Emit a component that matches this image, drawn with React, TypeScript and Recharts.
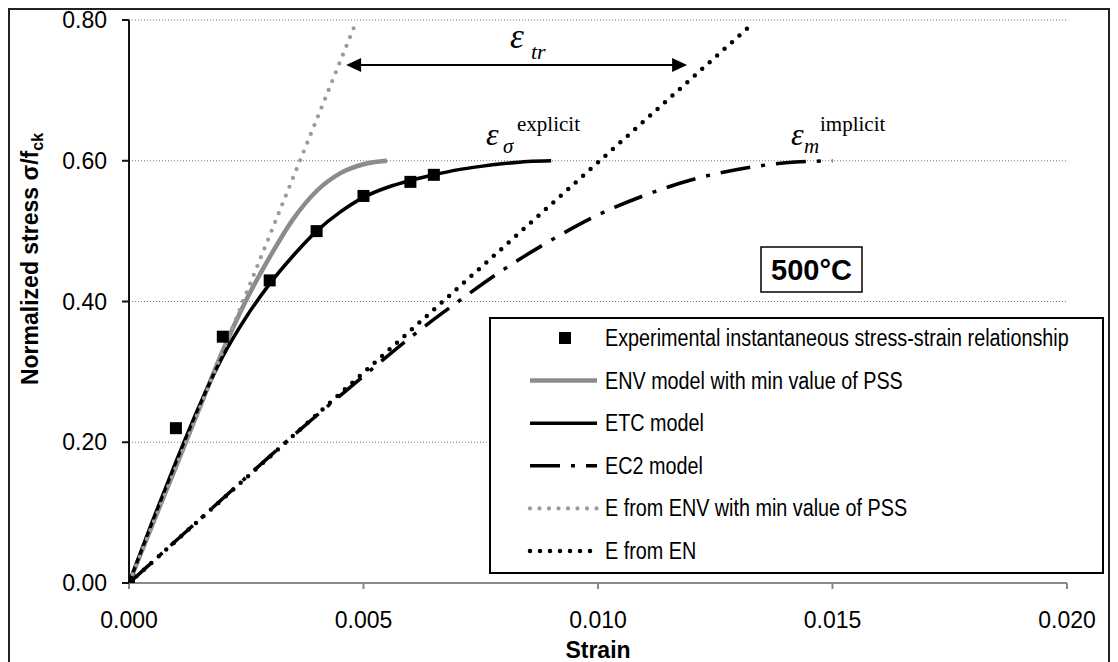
import React from 'react';
import {
  ComposedChart,
  Line,
  Scatter,
  XAxis,
  YAxis,
  CartesianGrid,
  Legend,
  ReferenceLine,
} from 'recharts';

// ---------- data ----------
const EXP_STRAIN = [0, 0.001, 0.002, 0.003, 0.004, 0.005, 0.006, 0.0065];
const EXP_STRESS = [0, 0.22, 0.35, 0.43, 0.5, 0.55, 0.57, 0.58];

const ENV_STRAIN = [0, 0.0005, 0.001, 0.0015, 0.002, 0.0025, 0.003, 0.0035, 0.004, 0.0045, 0.005, 0.0055];
const ENV_STRESS = [0, 0.083, 0.165, 0.248, 0.33, 0.402, 0.463, 0.517, 0.557, 0.582, 0.595, 0.6];

const ETC_STRAIN = [0, 0.0005, 0.001, 0.0015, 0.002, 0.0025, 0.003, 0.0035, 0.004, 0.0045, 0.005, 0.0055, 0.006, 0.0065, 0.007, 0.0075, 0.008, 0.0085, 0.009];
const ETC_STRESS = [0, 0.088, 0.172, 0.252, 0.322, 0.378, 0.425, 0.465, 0.5, 0.527, 0.548, 0.562, 0.572, 0.58, 0.587, 0.592, 0.596, 0.599, 0.6];

const EC2_STRAIN = [0, 0.001, 0.002, 0.003, 0.004, 0.005, 0.006, 0.007, 0.008, 0.009, 0.01, 0.011, 0.012, 0.013, 0.014, 0.015];
const EC2_STRESS = [0, 0.06, 0.12, 0.18, 0.238, 0.294, 0.349, 0.399, 0.446, 0.487, 0.523, 0.551, 0.573, 0.588, 0.597, 0.6];

const E_ENV_STRAIN = [0, 0.00486];
const E_ENV_STRESS = [0, 0.8];

const E_EN_STRAIN = [0, 0.0133];
const E_EN_STRESS = [0, 0.795];

const ARROW_STRAIN = [0.00463, 0.0119];
const ARROW_STRESS = 0.736;

const X_TICKS = [0, 0.005, 0.01, 0.015, 0.02];
const Y_TICKS = [0, 0.2, 0.4, 0.6, 0.8];

const SERIES_NAMES = [
  'Experimental instantaneous stress-strain relationship',
  'ENV model with min value of PSS',
  'ETC model',
  'EC2 model',
  'E from ENV with min value of PSS',
  'E from EN',
];

const zip = (xs: number[], ys: number[]) => xs.map((x, i) => ({ x, y: ys[i] }));

const expData = zip(EXP_STRAIN, EXP_STRESS);
const envData = zip(ENV_STRAIN, ENV_STRESS);
const etcData = zip(ETC_STRAIN, ETC_STRESS);
const ec2Data = zip(EC2_STRAIN, EC2_STRESS);
const eEnvData = zip(E_ENV_STRAIN, E_ENV_STRESS);
const eEnData = zip(E_EN_STRAIN, E_EN_STRESS);

// ---------- styles ----------
const SANS = "'Liberation Sans', Arial, Helvetica, sans-serif";
const SERIF = "'Liberation Serif', 'Times New Roman', serif";

const STYLE = {
  env: { stroke: '#8c8c8c', strokeWidth: 4.5 },
  etc: { stroke: '#000000', strokeWidth: 3.5 },
  ec2: { stroke: '#000000', strokeWidth: 3.5, strokeDasharray: '30 11 4 11' },
  eEnv: { stroke: '#9a9a9a', strokeWidth: 4.2, strokeDasharray: '0 9.5', strokeLinecap: 'round' as const },
  eEn: { stroke: '#000000', strokeWidth: 4.5, strokeDasharray: '0 10', strokeLinecap: 'round' as const },
};

const LEGEND_KEYS: Array<keyof typeof STYLE | 'exp'> = ['exp', 'env', 'etc', 'ec2', 'eEnv', 'eEn'];

const SquareMarker = (props: any) => {
  const { cx, cy } = props;
  if (cx == null || cy == null) return null;
  return <rect x={cx - 6} y={cy - 6} width={12} height={12} fill="#000" />;
};

const LegendBox = () => {
  const w = 615;
  const h = 257;
  return (
    <svg width={w} height={h} style={{ display: 'block', overflow: 'visible' }}>
      <rect x={1} y={1} width={w - 2} height={h - 2} fill="#fff" stroke="#000" strokeWidth={2} />
      {LEGEND_KEYS.map((k, i) => {
        const cy = 21 + i * 42.6;
        return (
          <g key={k}>
            {k === 'exp' ? (
              <rect x={70} y={cy - 6} width={12} height={12} fill="#000" />
            ) : (
              <line x1={41} x2={108} y1={cy} y2={cy} {...(STYLE as any)[k]} />
            )}
            <text
              transform={`translate(116, ${cy + 8}) scale(0.86, 1)`}
              fontFamily={SANS}
              fontSize={23}
              fill="#000"
            >
              {SERIES_NAMES[i]}
            </text>
          </g>
        );
      })}
    </svg>
  );
};

const ArrowShape = (props: any) => {
  const { x1, y1, x2, y2 } = props;
  if (x1 == null) return null;
  const head = 15;
  const half = 7;
  return (
    <g>
      <line x1={x1 + head - 2} y1={y1} x2={x2 - head + 2} y2={y2} stroke="#000" strokeWidth={2} />
      <polygon points={`${x1},${y1} ${x1 + head},${y1 - half} ${x1 + head},${y1 + half}`} fill="#000" />
      <polygon points={`${x2},${y2} ${x2 - head},${y2 - half} ${x2 - head},${y2 + half}`} fill="#000" />
    </g>
  );
};

export default function App() {
  return (
    <div
      style={{
        position: 'relative',
        width: 1118,
        height: 662,
        marginLeft: -8,
        marginTop: -8,
        background: '#fff',
        fontFamily: SANS,
        overflow: 'hidden',
      }}
    >
      <ComposedChart width={1118} height={662} margin={{ top: 20, right: 51, bottom: 0, left: 0 }}>
        <CartesianGrid horizontal vertical={false} stroke="#7a7a7a" strokeDasharray="1 2" strokeWidth={1} />
        <XAxis
          type="number"
          dataKey="x"
          domain={[0, 0.02]}
          ticks={X_TICKS}
          allowDataOverflow
          height={79}
          tickSize={6}
          tickMargin={23}
          tickFormatter={(v: number) => v.toFixed(3)}
          axisLine={{ stroke: '#8a8a8a', strokeWidth: 2 }}
          tickLine={{ stroke: '#8a8a8a', strokeWidth: 2 }}
          tick={{ fill: '#000', fontSize: 23, fontFamily: SANS }}
        />
        <YAxis
          type="number"
          dataKey="y"
          domain={[0, 0.8]}
          ticks={Y_TICKS}
          allowDataOverflow
          width={129}
          tickSize={7}
          tickMargin={15}
          tickFormatter={(v: number) => v.toFixed(2)}
          axisLine={{ stroke: '#111', strokeWidth: 2 }}
          tickLine={{ stroke: '#111', strokeWidth: 2 }}
          tick={{ fill: '#000', fontSize: 23, fontFamily: SANS }}
        />
        <Line data={envData} dataKey="y" name={SERIES_NAMES[1]} type="monotone" dot={false} activeDot={false} isAnimationActive={false} {...STYLE.env} />
        <Line data={etcData} dataKey="y" name={SERIES_NAMES[2]} type="monotone" dot={false} activeDot={false} isAnimationActive={false} {...STYLE.etc} />
        <Line data={ec2Data} dataKey="y" name={SERIES_NAMES[3]} type="monotone" dot={false} activeDot={false} isAnimationActive={false} {...STYLE.ec2} />
        <Line data={eEnvData} dataKey="y" name={SERIES_NAMES[4]} type="linear" dot={false} activeDot={false} isAnimationActive={false} {...STYLE.eEnv} />
        <Line data={eEnData} dataKey="y" name={SERIES_NAMES[5]} type="linear" dot={false} activeDot={false} isAnimationActive={false} {...STYLE.eEn} />
        <Scatter data={expData} dataKey="y" name={SERIES_NAMES[0]} shape={SquareMarker} isAnimationActive={false} />
        <ReferenceLine
          segment={[
            { x: ARROW_STRAIN[0], y: ARROW_STRESS },
            { x: ARROW_STRAIN[1], y: ARROW_STRESS },
          ]}
          ifOverflow="visible"
          shape={ArrowShape}
        />
        <Legend
          layout="vertical"
          align="center"
          verticalAlign="middle"
          content={() => <LegendBox />}
          wrapperStyle={{ left: 489, top: 317, width: 615, height: 257, margin: 0, padding: 0 }}
        />
      </ComposedChart>

      {/* outer frame (open at the bottom, as in the cropped reference) */}
      <div
        style={{
          position: 'absolute',
          left: 8,
          top: 8,
          width: 1102,
          height: 700,
          borderLeft: '2px solid #222',
          borderTop: '2px solid #222',
          borderRight: '2px solid #222',
          pointerEvents: 'none',
          boxSizing: 'border-box',
        }}
      />

      <svg
        width={1118}
        height={662}
        style={{ position: 'absolute', left: 0, top: 0, pointerEvents: 'none' }}
      >
        {/* axis titles */}
        <text x={598} y={658} textAnchor="middle" fontFamily={SANS} fontSize={23} fontWeight="bold" fill="#000">
          Strain
        </text>
        <text
          transform="translate(38,259) rotate(-90)"
          textAnchor="middle"
          fontFamily={SANS}
          fontSize={23}
          fontWeight="bold"
          fill="#000"
        >
          Normalized stress σ/f
          <tspan fontSize={16} dy={5}>ck</tspan>
        </text>

        {/* annotations */}
        <text fontFamily={SERIF} fill="#000">
          <tspan x={510} y={48} fontSize={35} fontStyle="italic">ε</tspan>
          <tspan x={531} y={59} fontSize={22} fontStyle="italic">tr</tspan>
        </text>
        <text fontFamily={SERIF} fill="#000">
          <tspan x={486} y={145} fontSize={32} fontStyle="italic">ε</tspan>
          <tspan x={503} y={153} fontSize={21} fontStyle="italic">σ</tspan>
          <tspan x={517} y={131} fontSize={21}>explicit</tspan>
        </text>
        <text fontFamily={SERIF} fill="#000">
          <tspan x={791} y={145} fontSize={32} fontStyle="italic">ε</tspan>
          <tspan x={804} y={153} fontSize={21} fontStyle="italic">m</tspan>
          <tspan x={820} y={131} fontSize={21}>implicit</tspan>
        </text>

        {/* temperature box */}
        <rect x={761} y={247} width={101} height={45} fill="#fff" stroke="#000" strokeWidth={1.5} />
        <text x={811.5} y={280} textAnchor="middle" fontFamily={SANS} fontSize={29} fontWeight="bold" fill="#000">
          500°C
        </text>
      </svg>
    </div>
  );
}
